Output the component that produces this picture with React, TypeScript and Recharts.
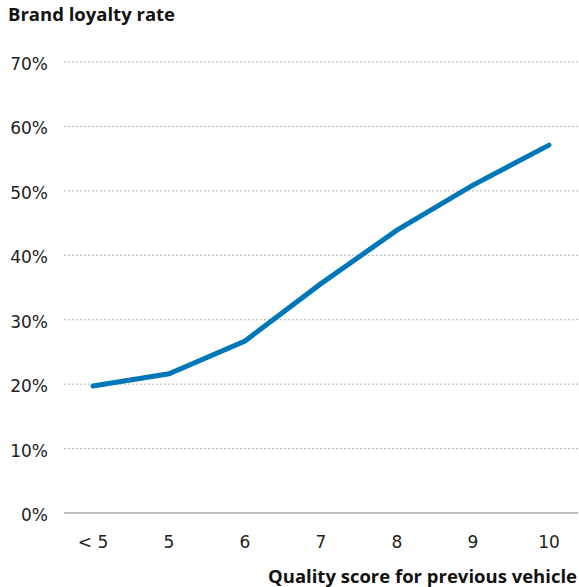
import React from 'react';
import {
  LineChart,
  Line,
  XAxis,
  YAxis,
  CartesianGrid,
  ReferenceLine,
} from 'recharts';

const categories = ['< 5', '5', '6', '7', '8', '9', '10'];
const loyaltyRate = [19.7, 21.6, 26.7, 35.6, 43.9, 50.9, 57.1];
const yTicks = [0, 10, 20, 30, 40, 50, 60, 70];

const data = categories.map((name, i) => ({ name, rate: loyaltyRate[i] }));

const TITLE_FONT = '"Open Sans", sans-serif';
const TICK_FONT = '"DejaVu Sans", sans-serif';

export default function App() {
  return (
    <div style={{ position: 'absolute', left: 0, top: 0, width: 579, height: 587, fontFamily: TITLE_FONT, background: '#fff' }}>
      {/* Title */}
      <div
        style={{
          position: 'absolute',
          left: 8,
          top: 3,
          fontSize: 18.5,
          lineHeight: '22px',
          fontWeight: 700,
          color: '#111',
        }}
      >
        Brand loyalty rate
      </div>

      <LineChart
        width={579}
        height={587}
        data={data}
        margin={{ top: 62, right: 1, left: 0, bottom: 0 }}
      >
        <CartesianGrid
          vertical={false}
          stroke="#b3b3b3"
          strokeDasharray="2 2"
        />
        <XAxis
          dataKey="name"
          padding={{ left: 29, right: 29 }}
          axisLine={false}
          tickLine={false}
          tickSize={0}
          tickMargin={23}
          height={74}
          tick={{ fill: '#222', fontSize: 17, fontFamily: TICK_FONT }}
        />
        <YAxis
          domain={[0, 70]}
          ticks={yTicks}
          width={64}
          axisLine={false}
          tickLine={false}
          tickSize={0}
          tickMargin={16}
          tickFormatter={(v: number) => `${v}%`}
          tick={{ fill: '#222', fontSize: 17, fontFamily: TICK_FONT, dy: 2 }}
        />
        <ReferenceLine y={0} stroke="#bdbdbd" strokeWidth={2} />
        <Line
          type="linear"
          dataKey="rate"
          stroke="#0077b6"
          strokeWidth={5}
          strokeLinecap="round"
          dot={false}
          activeDot={false}
          isAnimationActive={false}
        />
      </LineChart>

      {/* X axis title */}
      <div
        style={{
          position: 'absolute',
          right: 2,
          top: 566,
          fontSize: 18.5,
          lineHeight: '20px',
          fontWeight: 700,
          color: '#111',
          whiteSpace: 'nowrap',
        }}
      >
        Quality score for previous vehicle
      </div>
    </div>
  );
}
